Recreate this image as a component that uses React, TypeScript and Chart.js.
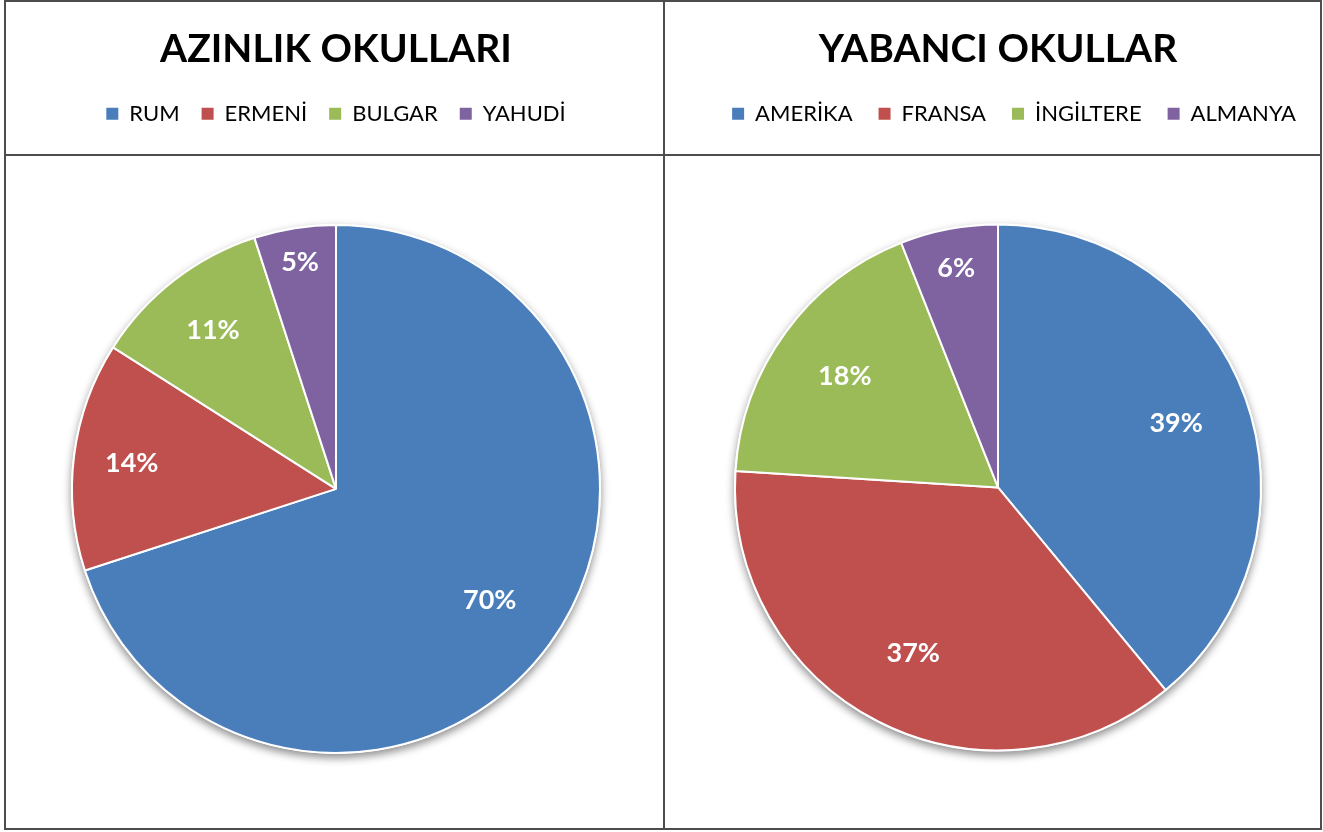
import React, { useEffect, useRef } from "react";
import { Chart, registerables } from "chart.js";

Chart.register(...registerables);

// ---- data ----
const leftTitle = "AZINLIK OKULLARI";
const leftLabels = ["RUM", "ERMENİ", "BULGAR", "YAHUDİ"];
const leftValues = [70, 14, 11, 5];

const rightTitle = "YABANCI OKULLAR";
const rightLabels = ["AMERİKA", "FRANSA", "İNGİLTERE", "ALMANYA"];
const rightValues = [39, 37, 18, 6];

// ---- styles ----
const COLORS = ["#4A7EBB", "#C0504D", "#9BBB59", "#7F63A1"];
const FONT = "Lato, 'Open Sans', sans-serif";
const LINE = "#4d4d4d";

const sliceLabelPlugin = {
  id: "sliceLabels",
  afterDatasetsDraw(chart: any, _args: any, opts: any) {
    const meta = chart.getDatasetMeta(0);
    const data = chart.data.datasets[0].data as number[];
    const total = data.reduce((a, b) => a + b, 0);
    const ctx = chart.ctx;
    ctx.save();
    ctx.fillStyle = "#ffffff";
    ctx.font = `bold ${opts.size || 26}px ${FONT}`;
    ctx.textAlign = "center";
    ctx.textBaseline = "middle";
    meta.data.forEach((arc: any, i: number) => {
      const p = arc.getProps(["x", "y", "startAngle", "endAngle", "outerRadius"], true);
      const mid = (p.startAngle + p.endAngle) / 2;
      const f = (opts.factors && opts.factors[i]) || 0.72;
      const x = p.x + Math.cos(mid) * p.outerRadius * f;
      const y = p.y + Math.sin(mid) * p.outerRadius * f;
      ctx.fillText(Math.round((data[i] / total) * 100) + "%", x, y);
    });
    ctx.restore();
  },
};

const shadowPlugin = {
  id: "pieShadow",
  beforeDatasetsDraw(chart: any) {
    const meta = chart.getDatasetMeta(0);
    const arc = meta.data[0];
    if (!arc) return;
    const p = arc.getProps(["x", "y", "outerRadius"], true);
    const ctx = chart.ctx;
    ctx.save();
    ctx.shadowColor = "rgba(0,0,0,0.45)";
    ctx.shadowBlur = 8;
    ctx.shadowOffsetY = 4;
    ctx.shadowOffsetX = 0;
    ctx.fillStyle = "#ffffff";
    ctx.beginPath();
    ctx.arc(p.x, p.y, p.outerRadius + 1, 0, Math.PI * 2);
    ctx.fill();
    ctx.restore();
  },
};

const legendSpacerPlugin = {
  id: "legendSpacer",
  beforeInit(chart: any, _args: any, opts: any) {
    const legend = chart.legend;
    if (!legend) return;
    const orig = legend.fit;
    legend.fit = function () {
      orig.call(this);
      this.height += opts.extra || 0;
    };
  },
};

const baseGenerateLabels = (Chart as any).overrides.pie.plugins.legend.labels.generateLabels;

type PieProps = {
  title: string;
  labels: string[];
  values: number[];
  left: number;
  width: number;
  radius: number;
  padL: number;
  padB: number;
  legendPad: number;
  legendAlign: "start" | "center" | "end";
  titleBottom: number;
  extra: number;
  factors: number[];
};

function PieChart(props: PieProps) {
  const ref = useRef<HTMLCanvasElement | null>(null);
  useEffect(() => {
    if (!ref.current) return;
    const chart = new Chart(ref.current, {
      type: "pie",
      data: {
        labels: props.labels,
        datasets: [
          {
            data: props.values,
            backgroundColor: COLORS,
            borderColor: "#ffffff",
            borderWidth: 2,
            radius: props.radius,
          } as any,
        ],
      },
      plugins: [sliceLabelPlugin, shadowPlugin, legendSpacerPlugin],
      options: {
        animation: false,
        responsive: false,
        layout: { padding: { left: props.padL, right: 0, top: 0, bottom: props.padB } },
        plugins: {
          tooltip: { enabled: false },
          title: {
            display: true,
            text: props.title,
            color: "#000000",
            font: { family: FONT, size: 39, weight: "bold", lineHeight: 1.2 },
            padding: { top: 25, bottom: props.titleBottom },
          },
          legend: {
            display: true,
            position: "top",
            align: props.legendAlign,
            labels: {
              color: "#000000",
              font: { family: FONT, size: 22 },
              boxWidth: 12,
              boxHeight: 12,
              padding: props.legendPad,
              generateLabels: (c: any) =>
                baseGenerateLabels(c).map((l: any) => ({ ...l, lineWidth: 0 })),
            },
          },
          sliceLabels: { factors: props.factors, size: 27 },
          legendSpacer: { extra: props.extra },
        } as any,
      },
    });
    return () => chart.destroy();
  }, []);
  return (
    <canvas
      ref={ref}
      width={props.width}
      height={828}
      style={{ position: "absolute", left: props.left, top: 1, width: props.width, height: 828 }}
    />
  );
}

export default function App() {
  const line = (s: React.CSSProperties) => (
    <div style={{ position: "absolute", background: LINE, pointerEvents: "none", ...s }} />
  );
  return (
    <div
      style={{
        position: "absolute",
        left: 0,
        top: 0,
        width: 1323,
        height: 832,
        background: "#ffffff",
        overflow: "hidden",
      }}
    >
      <PieChart
        title={leftTitle}
        labels={leftLabels}
        values={leftValues}
        left={5}
        width={659}
        radius={264}
        padL={3}
        padB={1}
        legendPad={22}
        legendAlign="center"
        titleBottom={8}
        extra={15}
        factors={[0.72, 0.78, 0.76, 0.87]}
      />
      <PieChart
        title={rightTitle}
        labels={rightLabels}
        values={rightValues}
        left={664}
        width={658}
        radius={263}
        padL={10}
        padB={5}
        legendPad={26}
        legendAlign="end"
        titleBottom={4}
        extra={16}
        factors={[0.72, 0.71, 0.72, 0.85]}
      />
      {line({ left: 4, top: 0, width: 1318, height: 2 })}
      {line({ left: 4, top: 828, width: 1318, height: 2 })}
      {line({ left: 4, top: 0, width: 2, height: 830 })}
      {line({ left: 1320, top: 0, width: 2, height: 830 })}
      {line({ left: 663, top: 0, width: 2, height: 830 })}
      {line({ left: 4, top: 154, width: 1318, height: 2 })}
    </div>
  );
}
